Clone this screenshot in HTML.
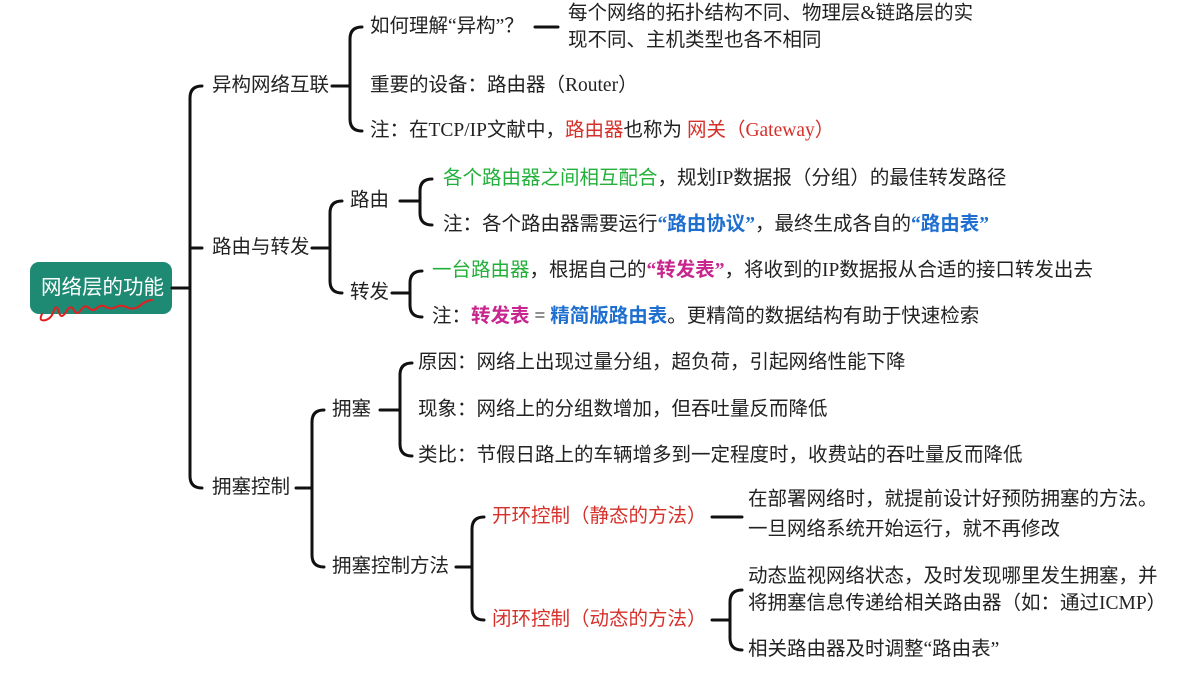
<!DOCTYPE html>
<html><head><meta charset="utf-8"><style>
body{margin:0;width:1190px;height:674px;background:#fff;overflow:hidden;position:relative;font-family:"Liberation Serif","Noto Sans CJK SC",sans-serif;}
.t{position:absolute;font-size:19.5px;color:#222;white-space:nowrap;line-height:24px;transform:translateY(-12px);}
.r{color:#d6302a}.g{color:#22b03a}.b{color:#1f6fd0;font-weight:bold}.m{color:#c8268f;font-weight:bold}
svg{position:absolute;left:0;top:0}
</style></head><body>
<svg width="1190" height="674" fill="none" stroke="#111" stroke-width="3" stroke-linecap="round">
<rect x="30" y="262" width="142" height="52" rx="9" fill="#1e8a73" stroke="none"/>
<path d="M42 314 q-4 8 4 6 q6-2 8-10 q3-6 5 2 q2 8 7 0 q4-8 8-2 q3 6 7 0 q4-6 8-2 q4 4 8 0 q5-4 9-1 q5 3 10 0 q6-3 12 1 q8 2 14-4 q6-4 10-4" stroke="#e02020" stroke-width="2"/>
<path d="M172 288 L190 288 M202 86 Q190 86 190 98 L190 476 Q190 488 202 488 M190 248 L202 248"/>
<path d="M332 86 L350 86 M362 27 Q350 27 350 39 L350 119 Q350 131 362 131 M535 27 L558 27"/>
<path d="M312 248 L330 248 M342 201 Q330 201 330 213 L330 281 Q330 293 342 293"/>
<path d="M400 201 L420 201 M432 179 Q420 179 420 191 L420 213 Q420 225 432 225"/>
<path d="M392 293 L410 293 M422 271 Q410 271 410 283 L410 305 Q410 317 422 317"/>
<path d="M296 488 L312 488 M324 410 Q312 410 312 422 L312 555 Q312 567 324 567"/>
<path d="M380 410 L400 410 M412 363 Q400 363 400 375 L400 444 Q400 456 412 456"/>
<path d="M456 567 L472 567 M484 517 Q472 517 472 529 L472 608 Q472 620 484 620"/>
<path d="M712 517 L742 517"/>
<path d="M712 620 L730 620 M742 590 Q730 590 730 602 L730 638 Q730 650 742 650"/>
</svg>
<div class="t" style="left:41px;top:288px;color:#fff;font-size:20.5px">网络层的功能</div>
<div class="t" style="left:212px;top:86px">异构网络互联</div>
<div class="t" style="left:370px;top:27px">如何理解“异构”？</div>
<div class="t" style="left:568px;top:14px">每个网络的拓扑结构不同、物理层&amp;链路层的实</div>
<div class="t" style="left:568px;top:41px">现不同、主机类型也各不相同</div>
<div class="t" style="left:370px;top:86px">重要的设备：路由器（Router）</div>
<div class="t" style="left:370px;top:131px">注：在TCP/IP文献中，<span class="r">路由器</span>也称为 <span class="r">网关（Gateway）</span></div>
<div class="t" style="left:212px;top:248px">路由与转发</div>
<div class="t" style="left:350px;top:201px">路由</div>
<div class="t" style="left:443px;top:179px"><span class="g">各个路由器之间相互配合</span>，规划IP数据报（分组）的最佳转发路径</div>
<div class="t" style="left:443px;top:225px">注：各个路由器需要运行<span class="b">“路由协议”</span>，最终生成各自的<span class="b">“路由表”</span></div>
<div class="t" style="left:350px;top:293px">转发</div>
<div class="t" style="left:432px;top:271px"><span class="g">一台路由器</span>，根据自己的<span class="m">“转发表”</span>，将收到的IP数据报从合适的接口转发出去</div>
<div class="t" style="left:432px;top:317px">注：<span class="m">转发表</span> = <span class="b">精简版路由表</span>。更精简的数据结构有助于快速检索</div>
<div class="t" style="left:212px;top:488px">拥塞控制</div>
<div class="t" style="left:332px;top:410px">拥塞</div>
<div class="t" style="left:418px;top:363px">原因：网络上出现过量分组，超负荷，引起网络性能下降</div>
<div class="t" style="left:418px;top:410px">现象：网络上的分组数增加，但吞吐量反而降低</div>
<div class="t" style="left:418px;top:456px">类比：节假日路上的车辆增多到一定程度时，收费站的吞吐量反而降低</div>
<div class="t" style="left:332px;top:567px">拥塞控制方法</div>
<div class="t r" style="left:492px;top:517px">开环控制（静态的方法）</div>
<div class="t" style="left:748px;top:500px">在部署网络时，就提前设计好预防拥塞的方法。</div>
<div class="t" style="left:748px;top:530px">一旦网络系统开始运行，就不再修改</div>
<div class="t r" style="left:492px;top:620px">闭环控制（动态的方法）</div>
<div class="t" style="left:748px;top:577px">动态监视网络状态，及时发现哪里发生拥塞，并</div>
<div class="t" style="left:748px;top:604px">将拥塞信息传递给相关路由器（如：通过ICMP）</div>
<div class="t" style="left:748px;top:650px">相关路由器及时调整“路由表”</div>
</body></html>
